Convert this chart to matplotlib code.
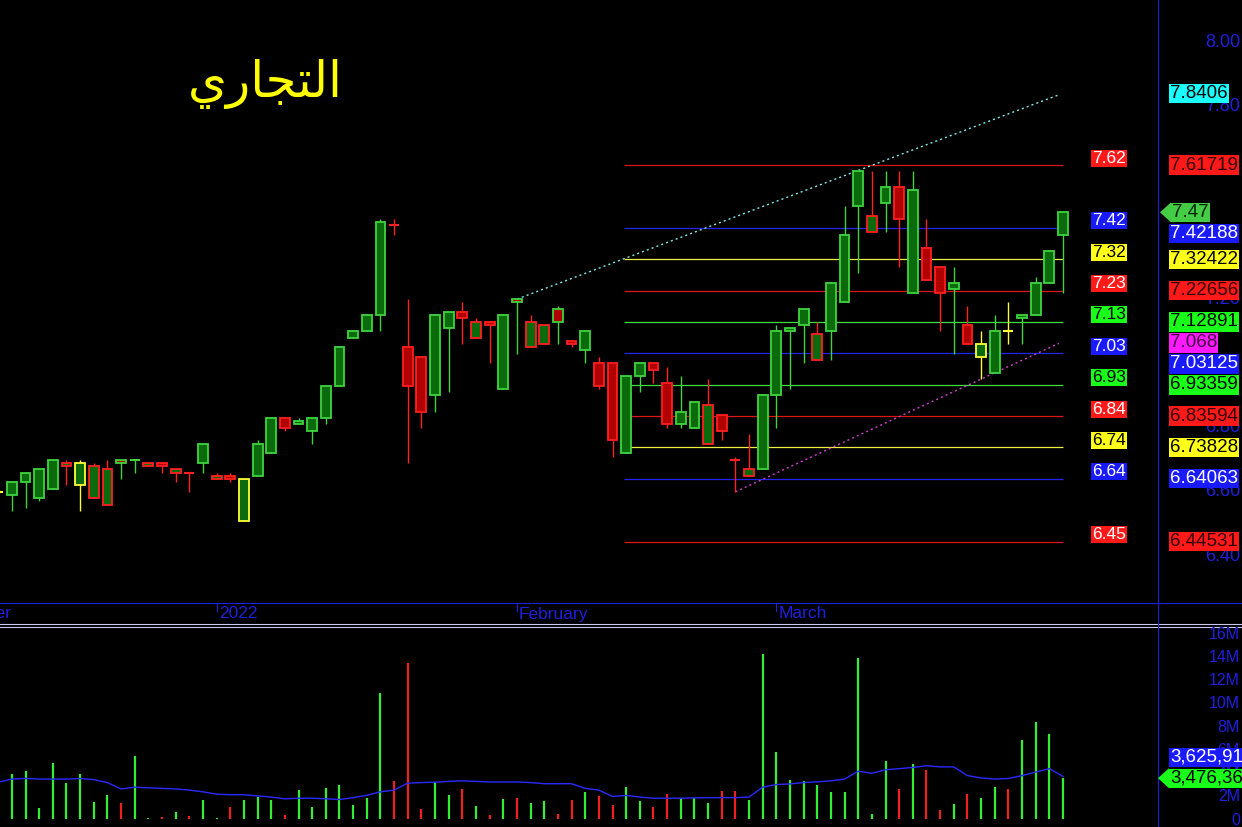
import numpy as np
import matplotlib
matplotlib.use('Agg')
import matplotlib.pyplot as plt
from matplotlib.patches import Rectangle, Polygon
from matplotlib.lines import Line2D
from matplotlib.ticker import MultipleLocator

# ---------------------------------------------------------------- data
# daily bars, first one is the half hidden bar on the left edge
opens = [6.60, 6.59, 6.63, 6.58, 6.61, 6.68, 6.62, 6.58, 6.56, 6.70, 6.70,
         6.68, 6.69, 6.66, 6.66, 6.69, 6.64, 6.65, 6.51, 6.65, 6.72,
         6.83, 6.81, 6.79, 6.83, 6.93, 7.08, 7.10, 7.15, 7.43, 7.05,
         7.02, 6.90, 7.11, 7.16, 7.08, 7.13, 6.92, 7.20, 7.05, 7.06,
         7.17, 7.07, 7.04, 7.00, 7.00, 6.72, 6.96, 7.00, 6.94, 6.81,
         6.80, 6.75, 6.84, 6.70, 6.65, 6.67, 6.90, 7.10, 7.12, 7.01,
         7.10, 7.19, 7.49, 7.41, 7.50, 7.55, 7.22, 7.36, 7.30, 7.23,
         7.12, 7.02, 6.97, 7.10, 7.14, 7.15, 7.25, 7.40]
highs = [6.61, 6.63, 6.66, 6.67, 6.70, 6.70, 6.70, 6.69, 6.70, 6.70, 6.70,
         6.69, 6.69, 6.67, 6.66, 6.75, 6.66, 6.66, 6.64, 6.76, 6.83,
         6.83, 6.83, 6.83, 6.93, 7.05, 7.10, 7.15, 7.45, 7.45, 7.20,
         7.02, 7.15, 7.16, 7.19, 7.14, 7.13, 7.15, 7.20, 7.15, 7.12,
         7.18, 7.07, 7.10, 7.02, 7.00, 6.96, 7.00, 7.00, 6.99, 6.96,
         6.88, 6.95, 6.84, 6.71, 6.78, 6.90, 7.12, 7.11, 7.17, 7.13,
         7.25, 7.49, 7.60, 7.60, 7.60, 7.60, 7.60, 7.45, 7.30, 7.30,
         7.18, 7.10, 7.15, 7.19, 7.15, 7.27, 7.35, 7.47]
lows = [6.59, 6.54, 6.55, 6.57, 6.61, 6.62, 6.54, 6.58, 6.56, 6.64, 6.66,
        6.68, 6.66, 6.63, 6.60, 6.66, 6.64, 6.63, 6.51, 6.65, 6.72,
        6.79, 6.81, 6.75, 6.81, 6.93, 7.08, 7.10, 7.10, 7.40, 6.69,
        6.80, 6.85, 6.91, 7.06, 7.08, 7.00, 6.92, 7.03, 7.05, 7.06,
        7.06, 7.05, 7.00, 6.92, 6.71, 6.72, 6.91, 6.94, 6.80, 6.80,
        6.80, 6.75, 6.76, 6.60, 6.65, 6.67, 6.80, 6.92, 7.00, 7.01,
        7.01, 7.19, 7.28, 7.41, 7.41, 7.30, 7.22, 7.26, 7.10, 7.03,
        7.06, 6.95, 6.97, 7.06, 7.06, 7.15, 7.25, 7.22]
closes = [6.60, 6.63, 6.66, 6.67, 6.70, 6.69, 6.69, 6.68, 6.67, 6.69, 6.70,
          6.69, 6.68, 6.67, 6.66, 6.75, 6.65, 6.64, 6.64, 6.75, 6.83,
          6.80, 6.82, 6.83, 6.93, 7.05, 7.10, 7.15, 7.44, 7.43, 6.93,
          6.85, 7.15, 7.16, 7.14, 7.13, 7.12, 7.15, 7.19, 7.13, 7.12,
          7.13, 7.06, 7.10, 6.93, 6.76, 6.96, 7.00, 6.98, 6.81, 6.85,
          6.88, 6.87, 6.79, 6.70, 6.67, 6.90, 7.10, 7.11, 7.17, 7.09,
          7.25, 7.40, 7.60, 7.46, 7.55, 7.45, 7.54, 7.26, 7.22, 7.25,
          7.06, 7.06, 7.10, 7.10, 7.15, 7.25, 7.35, 7.47]
# volume in millions of shares and its moving average
volumes = [3.0, 3.8, 4.1, 0.87, 4.8, 3.07, 3.8, 1.39, 2.06, 1.33, 5.39,
           0.05, 0.12, 0.52, 0.2, 1.57, 0.06, 0.98, 1.57, 1.83, 1.62,
           0.32, 2.43, 0.98, 2.6, 2.87, 1.13, 1.74, 10.8, 3.2, 13.4,
           0.81, 3.16, 2.0, 2.55, 1.04, 0.29, 1.68, 1.77, 1.33, 1.48,
           0.4, 1.57, 2.29, 1.91, 1.13, 2.7, 1.5, 1.0, 2.1, 1.8,
           1.8, 1.3, 2.35, 2.35, 1.57, 14.2, 5.7, 3.3, 3.2, 2.9,
           2.3, 2.3, 13.8, 0.35, 4.95, 2.55, 4.7, 4.15, 0.75, 1.28,
           2.15, 1.8, 2.7, 2.55, 6.8, 8.35, 7.3, 3.476369]
vol_ma = [3.13, 3.40, 3.45, 3.40, 3.40, 3.40, 3.45, 3.35, 3.10, 2.55, 2.70,
          2.65, 2.60, 2.55, 2.45, 2.30, 2.10, 2.05, 2.05, 1.95, 1.85,
          1.70, 1.75, 1.75, 1.70, 1.64, 1.80, 2.00, 2.30, 2.45, 3.05,
          3.10, 3.13, 3.20, 3.25, 3.20, 3.15, 3.15, 3.15, 3.10, 3.00,
          3.00, 3.00, 2.60, 2.45, 1.90, 1.99, 1.85, 1.75, 1.75, 1.75,
          1.78, 1.80, 1.80, 1.80, 1.85, 2.70, 2.93, 2.98, 3.10, 3.16,
          3.25, 3.40, 4.07, 3.90, 4.20, 4.30, 4.40, 4.55, 4.45, 4.45,
          3.70, 3.50, 3.40, 3.45, 3.70, 4.00, 4.30, 3.625913]

month_pos = [-5, 16, 38, 57]
month_labels = ['December', '2022', 'February', 'March']

# horizontal levels drawn over the last weeks
levels = [7.61719, 7.42188, 7.32422, 7.22656, 7.12891, 7.03125,
          6.93359, 6.83594, 6.73828, 6.64063, 6.44531]
level_kind = ['red', 'blue', 'yellow', 'red', 'green', 'blue',
              'green', 'red', 'yellow', 'blue', 'red']
level_span = (45.85, 78)

# trend lines: start bar, start price, end bar, end price
trend_top = (38, 7.20, 78, 7.8406)
trend_bottom = (54, 6.60, 78, 7.068)

title = 'التجاري'

# ---------------------------------------------------------------- look
W, H = 1242, 827
BG = 'black'
AXIS_BLUE = '#1f1fe0'
up_fill, dn_fill = '#0b6a0b', '#b00000'
up_edge, dn_edge, eq_edge = '#3fd43f', '#ff2020', '#ffff33'
vol_up, vol_dn = '#33ee33', '#ee2020'
line_col = {'red': '#dd1515', 'blue': '#2323ee', 'yellow': '#eeee40', 'green': '#40dd40'}
box_col = {'red': '#ff1a1a', 'blue': '#1a1aff', 'yellow': '#ffff1a', 'green': '#1aff1a'}
left_txt = {'red': 'white', 'blue': 'white', 'yellow': 'black', 'green': 'black'}
right_txt = {'red': '#300000', 'blue': 'white', 'yellow': 'black', 'green': 'black'}
FONT = 'Liberation Sans'

# arabic letters needed for the title: isolated, final, initial, medial
AR_FORMS = {
    'ا': ('\uFE8D', '\uFE8E', None, None),
    'ر': ('\uFEAD', '\uFEAE', None, None),
    'ل': ('\uFEDD', '\uFEDE', '\uFEDF', '\uFEE0'),
    'ت': ('\uFE95', '\uFE96', '\uFE97', '\uFE98'),
    'ج': ('\uFE9D', '\uFE9E', '\uFE9F', '\uFEA0'),
    'ي': ('\uFEF1', '\uFEF2', '\uFEF3', '\uFEF4'),
}


def shape_arabic(s):
    """matplotlib has no text shaping, so pick the joined forms by hand"""
    out = []
    for i, ch in enumerate(s):
        forms = AR_FORMS[ch]
        prev_joins = i > 0 and AR_FORMS[s[i - 1]][2] is not None
        next_joins = i < len(s) - 1 and forms[2] is not None
        if prev_joins and next_joins:
            out.append(forms[3])
        elif prev_joins:
            out.append(forms[1])
        elif next_joins:
            out.append(forms[2])
        else:
            out.append(forms[0])
    return ''.join(reversed(out))


def fx(px):
    return px / W


def fy(py):
    return 1 - py / H


def fmt_val(v):
    return ('%.5f' % v).rstrip('0').rstrip('.')


def spread(naturals, fixed, gap):
    """push label centres (pixels, down = larger) away from the fixed one"""
    pos = {}
    below = sorted([k for k in naturals if naturals[k] >= fixed], key=lambda k: naturals[k])
    last = fixed
    for k in below:
        last = max(naturals[k], last + gap)
        pos[k] = last
    above = sorted([k for k in naturals if naturals[k] < fixed], key=lambda k: -naturals[k])
    last = fixed
    for k in above:
        last = min(naturals[k], last - gap)
        pos[k] = last
    return pos


def box_label(text, xpx, ypx, fc, tc, size, arrow=False):
    fig.text(fx(xpx), fy(ypx), text, color=tc, fontsize=size, family=FONT,
             ha='left', va='center', zorder=10,
             bbox=dict(boxstyle='square,pad=0.06', fc=fc, ec='none'))
    if arrow:
        fig.add_artist(Polygon([(fx(xpx - 12), fy(ypx)), (fx(xpx - 1), fy(ypx - 10)),
                                (fx(xpx - 1), fy(ypx + 10))], closed=True,
                               transform=fig.transFigure, fc=fc, ec='none', zorder=10))


# ---------------------------------------------------------------- figure
n = len(opens)
x = np.arange(n)
prev_close = [opens[0]] + closes[:-1]

fig = plt.figure(figsize=(W / 100, H / 100), dpi=100, facecolor=BG)
ax = fig.add_axes([0, fy(603), fx(1158), 603 / H])
axv = fig.add_axes([0, 0, fx(1158), (H - 628) / H])
for a in (ax, axv):
    a.set_facecolor(BG)
    a.set_axis_off()
    a.set_xlim(0.13, 84.96)
ax.set_ylim(6.254, 8.131)
axv.set_ylim(-0.73, 16.42)

# candles
bw = 0.72
for i in range(n):
    o, h, l, c = opens[i], highs[i], lows[i], closes[i]
    d = round(c - prev_close[i], 4)
    ec = up_edge if d > 0 else (dn_edge if d < 0 else eq_edge)
    ax.vlines(i, l, h, color=ec, lw=1, zorder=2)
    if round(c - o, 4) == 0:
        ax.hlines(o, i - bw / 2, i + bw / 2, color=ec, lw=1.5, zorder=3)
    else:
        fc = up_fill if c > o else dn_fill
        ax.add_patch(Rectangle((i - bw / 2, min(o, c)), bw, abs(c - o),
                               fc=fc, ec=ec, lw=1.3, zorder=3))
    up = c > o or (round(c - o, 4) == 0 and d > 0)
    axv.vlines(i, 0, volumes[i], color=vol_up if up else vol_dn, lw=1.6, zorder=2)

axv.plot(x, vol_ma, color='#2a2aff', lw=1, zorder=3)

# levels
for lv, kind in zip(levels, level_kind):
    ax.hlines(lv, level_span[0], level_span[1], color=line_col[kind], lw=0.9, zorder=1)

# trend lines
for (x0, y0, x1, y1), col in ((trend_top, '#7fe8e8'), (trend_bottom, '#d040d0')):
    ax.plot([x0, x1 - 0.3], [y0, y0 + (y1 - y0) * (x1 - 0.3 - x0) / (x1 - x0)],
            color=col, lw=1, ls=(0, (1.5, 2.2)), zorder=1)


def price_px(p):
    return H - ax.transData.transform((0, p))[1]


def vol_px(v):
    return H - axv.transData.transform((0, v))[1]


# right scale ticks
ax.yaxis.set_major_locator(MultipleLocator(0.2))
for t in ax.get_yticks():
    if 6.254 < t < 8.131:
        fig.text(fx(1240), fy(price_px(t)), '%.2f' % t, color=AXIS_BLUE, fontsize=13,
                 family=FONT, ha='right', va='center', zorder=5)
axv.yaxis.set_major_locator(MultipleLocator(2))
for t in axv.get_yticks():
    if -0.5 < t < 16.42:
        fig.text(fx(1240), fy(vol_px(t) + 1.5), '0' if t == 0 else '%dM' % t, color=AXIS_BLUE,
                 fontsize=11.5, family=FONT, ha='right', va='center', zorder=5)

# level labels beside the lines
for lv, kind in zip(levels, level_kind):
    box_label('%.2f' % lv, 1092, price_px(lv) - 7, box_col[kind], left_txt[kind], 12.5)

# labels on the price scale
naturals = {('lv', i): price_px(lv) for i, lv in enumerate(levels)}
naturals[('tr', 'top')] = price_px(trend_top[3])
naturals[('tr', 'bottom')] = price_px(trend_bottom[3])
close_y = price_px(closes[-1])
pos = spread(naturals, close_y, 21)
for i, lv in enumerate(levels):
    kind = level_kind[i]
    box_label(fmt_val(lv), 1170, pos[('lv', i)], box_col[kind], right_txt[kind], 13.5)
box_label(fmt_val(trend_top[3]), 1170, pos[('tr', 'top')], '#1affff', 'black', 13.5)
box_label(fmt_val(trend_bottom[3]), 1170, pos[('tr', 'bottom')], '#ff1aff', '#400040', 13.5)
box_label(fmt_val(closes[-1]), 1172, close_y, '#44cc44', '#002200', 13.5, arrow=True)

# labels on the volume scale
vclose_y = vol_px(volumes[-1])
vpos = spread({'ma': vol_px(vol_ma[-1])}, vclose_y, 21)
box_label('{:,.0f}'.format(vol_ma[-1] * 1e6), 1170, vpos['ma'], '#1a1aff', 'white', 13.5)
box_label('{:,.0f}'.format(volumes[-1] * 1e6), 1170, vclose_y, '#1aff1a', 'black', 13.5, arrow=True)

# date strip
for p, lab in zip(month_pos, month_labels):
    xp = ax.transData.transform((p, 0))[0]
    fig.add_artist(Line2D([fx(xp), fx(xp)], [fy(603), fy(611)], transform=fig.transFigure,
                          color=AXIS_BLUE, lw=0.8))
    fig.text(fx(xp + 2), fy(614), lab, color=AXIS_BLUE, fontsize=12.5, family=FONT,
             ha='left', va='center')

# frame lines
fig.add_artist(Line2D([0, 1], [fy(603), fy(603)], transform=fig.transFigure, color=AXIS_BLUE, lw=0.8))
fig.add_artist(Line2D([0, 1], [fy(624), fy(624)], transform=fig.transFigure, color='#c8c8f0', lw=0.8))
fig.add_artist(Line2D([0, 1], [fy(627), fy(627)], transform=fig.transFigure, color='#c8c8f0', lw=0.8))
fig.add_artist(Line2D([fx(1158), fx(1158)], [0, 1], transform=fig.transFigure, color=AXIS_BLUE, lw=0.8))

# title
fig.text(fx(265), fy(84), shape_arabic(title), color='#ffff00', fontsize=36,
         family=['DejaVu Sans'], ha='center', va='center')

fig.savefig('out.png', dpi=100, facecolor=BG)
